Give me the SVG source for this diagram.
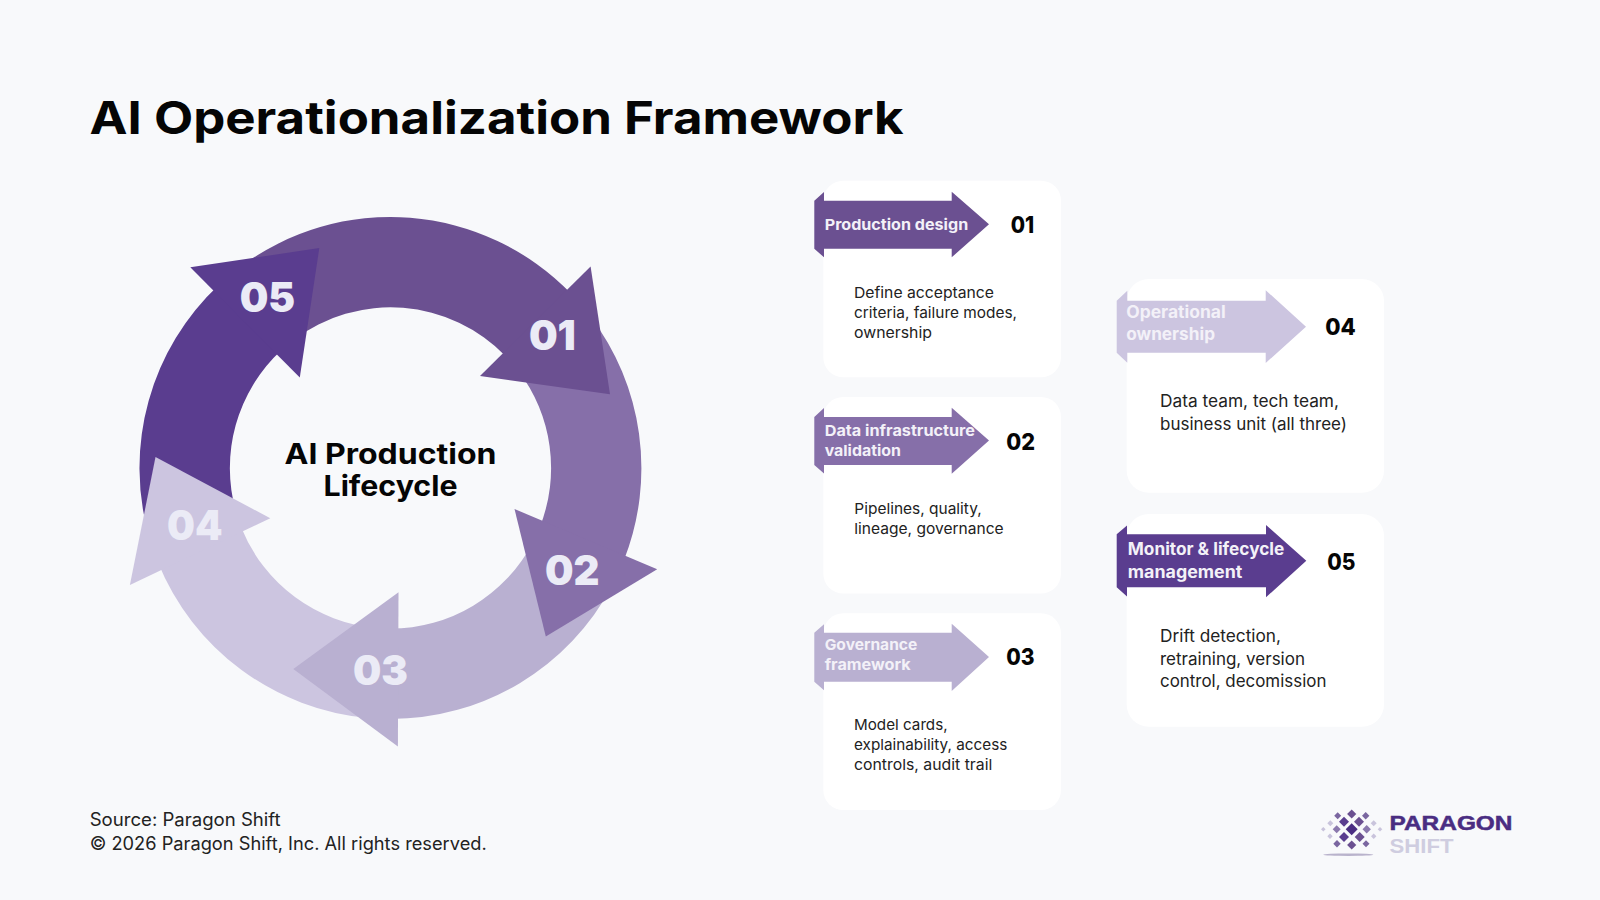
<svg xmlns="http://www.w3.org/2000/svg" width="1600" height="900" viewBox="0 0 1600 900">
<style>
text{font-family:"Inter","Open Sans","Liberation Sans",sans-serif}
.t{font-size:45px;font-weight:700;fill:#050505}
.ctr{font-size:28px;font-weight:700;fill:#050505;text-anchor:middle}
.rn{font-size:41px;font-weight:900;fill:#ebebf6}
.card{fill:#fff}
.lb{font-weight:700;fill:#f3f1f8}
.s{font-size:15px}
.m{font-size:17px}
.n{font-size:23px;font-weight:800;fill:#050505}
.b{fill:#222;font-weight:400}
.f{font-size:18px;fill:#222}
.c1{fill:#6b5091}.c2{fill:#866fa9}.c3{fill:#b9b0d1}.c4{fill:#ccc5e0}.c5{fill:#5a3d8f}
.lg{font-family:"Liberation Sans",Arial,sans-serif;font-size:21px;font-weight:700}
</style>
<defs>
<path id="d" d="M0-1L1 0L0 1L-1 0Z"/>
</defs>
<rect width="1600" height="900" fill="#f8f9fb"/>
<text class="t" x="89.5" y="133.5" textLength="814" lengthAdjust="spacingAndGlyphs">AI Operationalization Framework</text>

<g id="connectors">
<path class="c1" d="M239.4 267.6A251 251 0 0 1 571 293.6L506 356.4A160.6 160.6 0 0 0 293.8 339.7Z"/>
<path class="c2" d="M590 316A251 251 0 0 1 624 560L539.9 526.9A160.6 160.6 0 0 0 518.5 371Z"/>
<path class="c3" d="M612.1 585.8A251 251 0 0 1 390.5 719L390.5 628.6A160.6 160.6 0 0 0 532.3 543.4Z"/>
<path class="c4" d="M368.6 718A251 251 0 0 1 157.8 562L241.6 528.2A160.6 160.6 0 0 0 376.5 628Z"/>
<path class="c5" d="M149.2 537.2A251 251 0 0 1 219.3 284.4L281 350.5A160.6 160.6 0 0 0 236.1 512.3Z"/>
</g>

<g id="ring-01"><polygon class="c1" points="590.6,266.5 610,394.3 480,376"/><text class="rn" x="528.9" y="349.5" textLength="47" lengthAdjust="spacingAndGlyphs">01</text></g>
<g id="ring-02"><polygon class="c2" points="514.5,509 657.2,569.2 545.8,636.5"/><text class="rn" x="545" y="585" textLength="54.5" lengthAdjust="spacingAndGlyphs">02</text></g>
<g id="ring-03"><polygon class="c3" points="398.5,592.2 397.9,746.5 293.3,669"/><text class="rn" x="353" y="685.2" textLength="55" lengthAdjust="spacingAndGlyphs">03</text></g>
<g id="ring-04"><polygon class="c4" points="270.3,518.3 129.9,585 155.5,457"/><text class="rn" x="167" y="539.7" textLength="55.5" lengthAdjust="spacingAndGlyphs">04</text></g>
<g id="ring-05"><polygon class="c5" points="190.3,267.3 299.8,377.5 319.3,248.1"/><text class="rn" x="239.7" y="312" textLength="55.5" lengthAdjust="spacingAndGlyphs">05</text></g>

<g id="center-label">
<text class="ctr" x="390.5" y="463.6" textLength="212" lengthAdjust="spacingAndGlyphs">AI Production</text>
<text class="ctr" x="390.5" y="495.7" textLength="134" lengthAdjust="spacingAndGlyphs">Lifecycle</text>
</g>

<g id="card-01">
<rect class="card" x="823.3" y="180.7" width="237.7" height="196.6" rx="20"/>
<polygon class="c1" points="814.3,200.7 824,192 824,200.7 951.7,200.7 951.7,191.7 989,224.3 951.7,257.3 951.7,248.7 824,248.7 824,257.3 814.3,248.7"/>
<text class="lb s" x="824.7" y="229.8" textLength="143.5" lengthAdjust="spacingAndGlyphs">Production design</text>
<text class="n" x="1010.7" y="233" textLength="23.5" lengthAdjust="spacingAndGlyphs">01</text>
<text class="b s" x="854" y="298" textLength="140" lengthAdjust="spacingAndGlyphs">Define acceptance</text>
<text class="b s" x="854" y="318" textLength="163" lengthAdjust="spacingAndGlyphs">criteria, failure modes,</text>
<text class="b s" x="854" y="337.5" textLength="78" lengthAdjust="spacingAndGlyphs">ownership</text>
</g>

<g id="card-02">
<rect class="card" x="823.3" y="397" width="237.7" height="196.6" rx="20"/>
<polygon class="c2" points="814.3,417 824,408 824,417 951.7,417 951.7,407.7 989,440.5 951.7,473.7 951.7,465 824,465 824,473.5 814.3,465"/>
<text class="lb s" x="824.7" y="435.7" textLength="150.3" lengthAdjust="spacingAndGlyphs">Data infrastructure</text>
<text class="lb s" x="824.7" y="456" textLength="76.3" lengthAdjust="spacingAndGlyphs">validation</text>
<text class="n" x="1006.2" y="449.8" textLength="28.8" lengthAdjust="spacingAndGlyphs">02</text>
<text class="b s" x="854.3" y="513.7" textLength="127.4" lengthAdjust="spacingAndGlyphs">Pipelines, quality,</text>
<text class="b s" x="854.3" y="533.7" textLength="149.4" lengthAdjust="spacingAndGlyphs">lineage, governance</text>
</g>

<g id="card-03">
<rect class="card" x="823.3" y="613.3" width="237.7" height="196.7" rx="20"/>
<polygon class="c3" points="814.3,632.7 824,624.2 824,632.7 951.7,632.7 951.7,623.7 989,656.9 951.7,690.9 951.7,681.7 824,681.7 824,690.2 814.3,681.7"/>
<text class="lb s" x="824.7" y="650" textLength="92.6" lengthAdjust="spacingAndGlyphs">Governance</text>
<text class="lb s" x="824.7" y="670" textLength="86" lengthAdjust="spacingAndGlyphs">framework</text>
<text class="n" x="1006.2" y="665" textLength="28.3" lengthAdjust="spacingAndGlyphs">03</text>
<text class="b s" x="854" y="730.3" textLength="93.6" lengthAdjust="spacingAndGlyphs">Model cards,</text>
<text class="b s" x="854" y="750" textLength="153.3" lengthAdjust="spacingAndGlyphs">explainability, access</text>
<text class="b s" x="854" y="770" textLength="138.3" lengthAdjust="spacingAndGlyphs">controls, audit trail</text>
</g>

<g id="card-04">
<rect class="card" x="1126.7" y="279" width="257.3" height="213.7" rx="22"/>
<polygon class="c4" points="1116.7,300.7 1127.3,290.7 1127.3,300.7 1265.7,300.7 1265.7,290.2 1306,326.7 1265.7,363 1265.7,352.7 1127.3,352.7 1127.3,362.7 1116.7,352.7"/>
<text class="lb m" x="1126.2" y="318.3" textLength="99.5" lengthAdjust="spacingAndGlyphs">Operational</text>
<text class="lb m" x="1126.2" y="340" textLength="88.8" lengthAdjust="spacingAndGlyphs">ownership</text>
<text class="n" x="1325.2" y="335" textLength="30.5" lengthAdjust="spacingAndGlyphs">04</text>
<text class="b m" x="1160" y="406.7" textLength="179" lengthAdjust="spacingAndGlyphs">Data team, tech team,</text>
<text class="b m" x="1160" y="429.6" textLength="187" lengthAdjust="spacingAndGlyphs">business unit (all three)</text>
</g>

<g id="card-05">
<rect class="card" x="1126.7" y="514" width="257.3" height="212.7" rx="22"/>
<polygon class="c5" points="1116.7,534.3 1127,525.5 1127,534.3 1266,534.3 1266,525 1306.3,560.7 1266,597.3 1266,587.3 1127,587.3 1127,596.5 1116.7,587.3"/>
<text class="lb m" x="1127.8" y="555.3" textLength="156.5" lengthAdjust="spacingAndGlyphs">Monitor &amp; lifecycle</text>
<text class="lb m" x="1127.8" y="577.7" textLength="114.5" lengthAdjust="spacingAndGlyphs">management</text>
<text class="n" x="1327.2" y="569.5" textLength="28.2" lengthAdjust="spacingAndGlyphs">05</text>
<text class="b m" x="1160" y="642.3" textLength="121" lengthAdjust="spacingAndGlyphs">Drift detection,</text>
<text class="b m" x="1160" y="664.7" textLength="145" lengthAdjust="spacingAndGlyphs">retraining, version</text>
<text class="b m" x="1160" y="687.3" textLength="166.4" lengthAdjust="spacingAndGlyphs">control, decomission</text>
</g>

<g id="footer">
<text class="f" x="89.7" y="826" textLength="191" lengthAdjust="spacingAndGlyphs">Source: Paragon Shift</text>
<text class="f" x="89.7" y="850" textLength="397" lengthAdjust="spacingAndGlyphs">© 2026 Paragon Shift, Inc. All rights reserved.</text>
</g>

<g id="logo">
<ellipse cx="1348.3" cy="854.7" rx="25" ry="1.2" fill="#b9b3cc"/>
<g fill="#7a66a0">
<use href="#d" transform="translate(1337.7 815.7) scale(3.5)"/>
<use href="#d" transform="translate(1365.7 815.7) scale(3.7)"/>
<use href="#d" transform="translate(1337 843.7) scale(3.7)"/>
<use href="#d" transform="translate(1366 843.7) scale(3.5)"/>
</g>
<g fill="#6b5091">
<use href="#d" transform="translate(1351.7 814) scale(4.6)"/>
<use href="#d" transform="translate(1359 821.7) scale(5)"/>
<use href="#d" transform="translate(1359.7 837) scale(5)"/>
<use href="#d" transform="translate(1351.7 845) scale(4.6)"/>
</g>
<g fill="#5a3d8f">
<use href="#d" transform="translate(1344 821.7) scale(5)"/>
<use href="#d" transform="translate(1344 837) scale(5)"/>
</g>
<g fill="#8a78ad">
<use href="#d" transform="translate(1336.7 829.3) scale(4)"/>
<use href="#d" transform="translate(1366.7 829.3) scale(4.2)"/>
</g>
<use href="#d" transform="translate(1351.7 829.3) scale(6)" fill="#4a2d82"/>
<g fill="#c9c4dc">
<use href="#d" transform="translate(1330.3 823.3) scale(3)"/>
<use href="#d" transform="translate(1373.7 823.3) scale(3)"/>
<use href="#d" transform="translate(1323.3 829.3) scale(2.3)"/>
<use href="#d" transform="translate(1380 829.3) scale(2.3)"/>
<use href="#d" transform="translate(1330 836.3) scale(2.7)"/>
<use href="#d" transform="translate(1373.7 836.3) scale(2.7)"/>
</g>
<text class="lg" x="1389.5" y="829.5" fill="#4a2d82" stroke="#4a2d82" stroke-width=".5" textLength="123" lengthAdjust="spacingAndGlyphs">PARAGON</text>
<text class="lg" x="1389.5" y="853" fill="#cfcde0" textLength="64" lengthAdjust="spacingAndGlyphs">SHIFT</text>
</g>
</svg>
